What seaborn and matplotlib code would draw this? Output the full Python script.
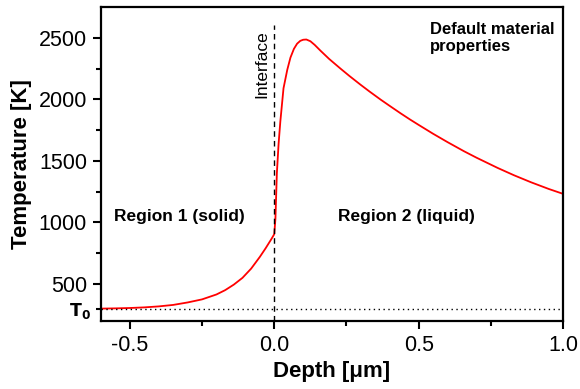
import matplotlib
matplotlib.use("Agg")
import matplotlib.pyplot as plt
import seaborn as sns
import pandas as pd
from matplotlib.ticker import FixedLocator, FixedFormatter

# 그림에서 읽은 온도 분포 (깊이 [um], 온도 [K])
depth = [-0.60, -0.55, -0.50, -0.45, -0.40, -0.35, -0.30, -0.25, -0.20, -0.17,
         -0.14, -0.11, -0.08, -0.05, -0.03, -0.01, 0.00,
         0.004, 0.009, 0.015, 0.021, 0.032, 0.045, 0.056, 0.068, 0.079,
         0.09, 0.10, 0.111, 0.125, 0.14, 0.16, 0.19, 0.229, 0.26, 0.299,
         0.33, 0.368, 0.40, 0.4375, 0.47, 0.50, 0.55, 0.60, 0.657, 0.70,
         0.773, 0.83, 0.889, 0.95, 1.00]
temp = [300, 302, 305, 310, 318, 330, 350, 375, 415, 450,
        495, 550, 625, 720, 790, 865, 905,
        1030, 1400, 1640, 1820, 2090, 2240, 2339, 2410, 2452,
        2475, 2484, 2486, 2472, 2442, 2395, 2328, 2250, 2190, 2118,
        2063, 1998, 1946, 1886, 1836, 1792, 1720, 1652, 1578, 1526,
        1443, 1383, 1326, 1272, 1232]

T0 = 300
y_major = [500, 1000, 1500, 2000, 2500]
y_minor = [T0, 750, 1250, 1750, 2250]
y_minor_labels = [r"$\mathbf{T_0}$", "", "", "", ""]
x_major = [-0.5, 0.0, 0.5, 1.0]
x_minor = [-0.25, 0.25, 0.75]

df = pd.DataFrame({"depth": depth, "temp": temp})

sns.set_style("ticks", {"axes.edgecolor": "black", "text.color": "black",
                        "axes.labelcolor": "black", "xtick.color": "black",
                        "ytick.color": "black"})
plt.rcParams["font.family"] = ["Liberation Sans", "DejaVu Sans"]

fig = plt.figure(figsize=(5.8, 3.89), dpi=100)
ax = fig.add_axes([0.174, 0.175, 0.797, 0.807])

sns.lineplot(data=df, x="depth", y="temp", color="red", linewidth=1.3, ax=ax)

# 계면 및 초기온도 기준선
ax.plot([0, 0], [200, 2600], color="black", linestyle=(0, (4, 3)), linewidth=1.0)
ax.axhline(T0, color="black", linestyle=(0, (1, 2.5)), linewidth=1.0)

ax.set_xlim(-0.6, 1.0)
ax.set_ylim(200, 2750)
ax.set_xticks(x_major)
ax.set_xticklabels(["-0.5", "0.0", "0.5", "1.0"])
ax.xaxis.set_minor_locator(FixedLocator(x_minor))
ax.set_yticks(y_major)
ax.yaxis.set_minor_locator(FixedLocator(y_minor))
ax.yaxis.set_minor_formatter(FixedFormatter(y_minor_labels))

ax.tick_params(axis="both", which="major", direction="out", length=6, width=1.5,
               labelsize=15.5, pad=4)
ax.tick_params(axis="both", which="minor", direction="out", length=3.5, width=1.5)
ax.tick_params(axis="y", which="minor", labelsize=12.5, pad=4)
for s in ax.spines.values():
    s.set_linewidth(1.6)

ax.set_xlabel("Depth [μm]", fontsize=16, fontweight="bold", va="center")
ax.set_ylabel("Temperature [K]", fontsize=16, fontweight="bold", va="center")
ax.xaxis.set_label_coords(0.5, -0.162)
ax.yaxis.set_label_coords(-0.171, 0.5)

ax.text(-0.556, 1050, "Region 1 (solid)", fontsize=12.5, fontweight="bold",
        ha="left", va="center")
ax.text(0.222, 1050, "Region 2 (liquid)", fontsize=12.5, fontweight="bold",
        ha="left", va="center")
ax.text(-0.042, 2565, "Interface", fontsize=12.5, rotation=90,
        ha="center", va="top")
ax.text(0.538, 2630, "Default material\nproperties", fontsize=12,
        fontweight="bold", ha="left", va="top", linespacing=1.2)

fig.savefig("out.png", dpi=100)
plt.close(fig)
